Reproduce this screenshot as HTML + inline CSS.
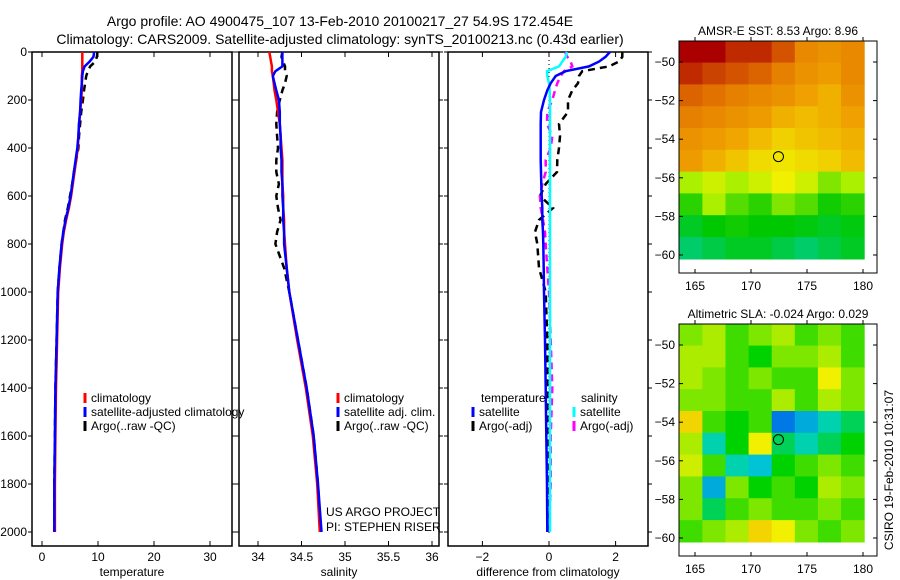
<!DOCTYPE html>
<html><head><meta charset="utf-8"><style>
html,body{margin:0;padding:0;background:#fff;width:900px;height:580px;overflow:hidden}
svg{display:block;font-family:"Liberation Sans",sans-serif}
text{font-size:12px;fill:#000}
</style></head><body>
<svg id="fig" width="900" height="580" viewBox="0 0 900 580">
<text x="340" y="26" text-anchor="middle" style="font-size:14px">Argo profile: AO 4900475_107 13-Feb-2010 20100217_27 54.9S 172.454E</text>
<text x="340" y="44" text-anchor="middle" style="font-size:14px">Climatology: CARS2009. Satellite-adjusted climatology: synTS_20100213.nc (0.43d earlier)</text>
<g id="p1"></g>
<g id="p2"></g>
<g id="p3"></g>
<g id="m1"></g>
<g id="m2"></g>
<text x="893" y="470" transform="rotate(-90 893 470)" text-anchor="middle" style="font-size:12px">CSIRO 19-Feb-2010 10:31:07</text>
</svg>
<script>
// ---- data ----
const depthTicks=[0,200,400,600,800,1000,1200,1400,1600,1800,2000];
const tempTicks=[0,10,20,30];
const salTicks=[34,34.5,35,35.5,36];
const diffTicks=[-2,0,2];
const depths=[0,20,40,60,80,100,130,160,200,250,300,350,400,450,500,550,600,650,700,750,800,900,1000,1200,1400,1600,1800,2000];
const tempClim=[7.2,7.2,7.2,7.2,7.2,7.1,7.1,7.1,7.0,6.8,6.6,6.5,6.4,6.1,5.8,5.5,5.2,4.8,4.3,3.9,3.6,3.2,2.9,2.7,2.5,2.4,2.3,2.3];
const tempSat=[9.3,9.2,8.5,7.6,7.3,7.2,7.1,7.0,6.9,6.8,6.6,6.5,6.3,6.0,5.7,5.4,5.1,4.7,4.2,3.8,3.5,3.1,2.8,2.6,2.4,2.3,2.2,2.2];
const tempArgo=[9.9,9.8,9.5,8.6,8.2,7.9,7.7,7.5,7.3,7.0,6.8,6.6,6.5,6.1,5.7,5.4,5.0,4.6,4.1,3.8,3.5,3.1,2.8,2.6,2.4,2.3,2.2,2.2];
const salClim=[34.13,34.14,34.15,34.16,34.16,34.17,34.18,34.19,34.21,34.23,34.25,34.26,34.27,34.28,34.28,34.28,34.29,34.29,34.3,34.3,34.31,34.33,34.36,34.45,34.55,34.63,34.68,34.71];
const salSat=[34.28,34.28,34.28,34.28,34.2,34.17,34.19,34.21,34.24,34.25,34.25,34.26,34.26,34.27,34.27,34.28,34.28,34.29,34.29,34.3,34.3,34.33,34.36,34.46,34.56,34.64,34.69,34.73];
const salArgo=[34.28,34.27,34.29,34.31,34.31,34.33,34.31,34.28,34.25,34.22,34.21,34.22,34.23,34.21,34.21,34.24,34.21,34.23,34.26,34.22,34.2,34.3,34.36,34.46,34.56,34.64,34.69,34.72];
const dTempSat=[1.83,1.7,1.5,1.2,0.5,0.2,0.05,-0.05,-0.15,-0.24,-0.25,-0.25,-0.25,-0.25,-0.24,-0.23,-0.22,-0.2,-0.2,-0.18,-0.17,-0.16,-0.15,-0.12,-0.1,-0.08,-0.06,-0.05];
const dTempArgo=[2.2,2.2,2.1,1.8,1.0,0.9,0.87,0.7,0.57,0.57,0.3,0.33,0.3,0.25,0.24,-0.1,-0.27,0.12,-0.3,-0.42,-0.35,-0.3,-0.1,-0.05,-0.05,-0.05,0,0];
const dSalSat=[0.54,0.5,0.4,0.3,-0.06,-0.05,0,0.02,0.03,0.03,0.03,0.03,0.03,0.03,0.03,0.03,0.03,0.03,0.03,0.03,0.03,0.03,0.03,0.03,0.03,0.03,0.03,0.03];
const dSalArgo=[0.48,0.55,0.65,0.7,0.45,0.35,0.25,0.18,0.1,-0.05,-0.06,0.1,0.05,-0.1,-0.1,-0.2,-0.27,-0.25,-0.18,-0.12,-0.1,-0.05,0,0.05,0.1,0.05,0.05,0];
const lonTicks=[165,170,175,180];
const latTicks=[-50,-52,-54,-56,-58,-60];
const sstGrid=[
[1,1,.95,.95,.9,.8,.78,.8],[.95,.92,.9,.88,.82,.78,.76,.8],[.88,.85,.82,.8,.78,.75,.72,.78],
[.82,.8,.78,.76,.72,.7,.72,.75],[.78,.76,.74,.7,.66,.68,.7,.72],[.76,.72,.68,.64,.62,.64,.66,.7],
[.5,.55,.5,.55,.6,.55,.45,.5],[.35,.5,.4,.35,.45,.4,.32,.35],[.25,.3,.32,.3,.3,.28,.25,.28],[.15,.2,.25,.25,.2,.15,.2,.25]];
const slaGrid=[
[.2,.3,.1,.2,.3,.1,.2,.1],[.3,.3,.1,0,.2,.2,.3,.1],[.3,.2,.1,.2,.1,.1,.5,.2],[.2,.2,.1,.1,.3,.1,.3,.2],
[.6,.1,0,.1,-.6,-.4,-.2,-.1],[.3,-.2,0,.5,-.1,-.2,-.1,0],[.4,.1,-.2,-.3,0,.1,.2,.1],[.2,-.4,.2,0,.1,0,.3,.2],
[.2,-.1,.1,.2,.1,.1,.2,.1],[.1,.2,.3,.6,.5,.2,.1,.2]];
const argoLon=172.45, argoLat=-54.9;

const NS='http://www.w3.org/2000/svg';
function mk(parent,tag,attrs){const e=document.createElementNS(NS,tag);for(const k in attrs)e.setAttribute(k,attrs[k]);parent.appendChild(e);return e;}
function txt(parent,x,y,s,anchor,size){const t=mk(parent,'text',{x:x,y:y,'text-anchor':anchor||'start'});if(size)t.style.fontSize=size+'px';t.textContent=s;return t;}
const Y0=52,Y1=546;
const yD=d=>52+d*0.24;

function panel(g,x0,x1,xs,ticks,xlabel,fmt,showY){
  mk(g,'rect',{x:x0,y:Y0,width:x1-x0,height:Y1-Y0,fill:'none',stroke:'#000','stroke-width':1.5});
  ticks.forEach(v=>{const x=xs(v);
    const t=mk(g,'line',{x1:x,x2:x,y1:Y0,y2:Y0+5,stroke:'#000'});
    mk(g,'line',{x1:x,x2:x,y1:Y1,y2:Y1-5,stroke:'#000'});
    txt(g,x,Y1+15,fmt(v),'middle');});
  depthTicks.forEach(d=>{const y=yD(d);
    mk(g,'line',{x1:x0,x2:x0-4,y1:y,y2:y,stroke:'#000'});mk(g,'line',{x1:x1,x2:x1+4,y1:y,y2:y,stroke:'#000'});
    if(showY)txt(g,x0-5,y+4,String(d),'end');});
  const l=txt(g,(x0+x1)/2,Y1+30,xlabel,'middle');
}
function series(g,vals,xs,color,dash,name,w){
  const d=vals.map((v,i)=>(i?'L':'M')+xs(v).toFixed(1)+','+yD(depths[i]).toFixed(1)).join('');
  const p=mk(g,'path',{d:d,fill:'none',stroke:color,'stroke-width':w||2.5});
  if(dash)p.setAttribute('stroke-dasharray',dash);
  
  
}
function legend(g,x,y,color,label){
  mk(g,'line',{x1:x,x2:x,y1:y-9,y2:y+1,stroke:color,'stroke-width':3});
  const t=txt(g,x+6,y,label);
  
  
}
// panel 1
const p1=document.getElementById('p1');const xs1=v=>42+v*5.6;
panel(p1,32,232,xs1,tempTicks,'temperature',v=>String(v),true);
series(p1,tempArgo,xs1,'#000','7,5','temp-argo-line');
series(p1,tempClim,xs1,'#f00',null,'temp-climatology-line');
series(p1,tempSat,xs1,'#00f',null,'temp-satellite-line');
legend(p1,85,402,'#f00','climatology');legend(p1,85,416,'#00f','satellite-adjusted climatology');legend(p1,85,430,'#000','Argo(..raw -QC)');
// panel 2
const p2=document.getElementById('p2');const xs2=v=>258+(v-34)*87;
panel(p2,239,439,xs2,salTicks,'salinity',v=>String(v),false);
series(p2,salArgo,xs2,'#000','7,5','sal-argo-line');
series(p2,salClim,xs2,'#f00',null,'sal-climatology-line');
series(p2,salSat,xs2,'#00f',null,'sal-satellite-line');
legend(p2,338,402,'#f00','climatology');legend(p2,338,416,'#00f','satellite adj. clim.');legend(p2,338,430,'#000','Argo(..raw -QC)');
txt(p2,326,516,'US ARGO PROJECT');txt(p2,326,531,'PI: STEPHEN RISER');
// panel 3
const p3=document.getElementById('p3');const xs3=v=>549+v*33.3;
panel(p3,448,648,xs3,diffTicks,'difference from climatology',v=>v<0?'\u2212'+(-v):String(v),false);
mk(p3,'line',{x1:xs3(0),x2:xs3(0),y1:Y0,y2:Y1-10,stroke:'#000','stroke-dasharray':'1,3'});
series(p3,dTempArgo,xs3,'#000','7,5','diff-temp-argo-line');
series(p3,dSalArgo,xs3,'#f0f','7,5','diff-sal-argo-line');
series(p3,dSalSat,xs3,'#0ff',null,'diff-sal-satellite-line');
series(p3,dTempSat,xs3,'#00f',null,'diff-temp-satellite-line');
txt(p3,481,402,'temperature');txt(p3,581,402,'salinity');
legend(p3,473,416,'#00f','satellite');legend(p3,473,430,'#000','Argo(-adj)');
legend(p3,574,416,'#0ff','satellite');legend(p3,574,430,'#f0f','Argo(-adj)');
// maps
function lerp(a,b,t){return a.map((v,i)=>Math.round(v+(b[i]-v)*t));}
function cmap(stops,v){v=Math.max(0,Math.min(1,v));for(let i=1;i<stops.length;i++){if(v<=stops[i][0]){const t=(v-stops[i-1][0])/(stops[i][0]-stops[i-1][0]);const c=lerp(stops[i-1][1],stops[i][1],t);return 'rgb('+c.join(',')+')';}}return 'rgb('+stops[stops.length-1][1].join(',')+')';}
const sstStops=[[0,[0,210,210]],[0.3,[0,200,0]],[0.5,[170,240,0]],[0.6,[240,240,0]],[0.75,[240,160,0]],[0.88,[220,100,0]],[1,[170,0,0]]];
const slaStops=[[0,[0,0,140]],[0.2,[0,120,230]],[0.38,[0,210,210]],[0.5,[0,210,0]],[0.62,[150,235,0]],[0.75,[240,240,0]],[0.88,[245,170,0]],[1,[220,80,0]]];
function map(g,top,title,grid,stops,norm){
  const bx0=679,bx1=877,by0=top,by1=top+232;
  const lx=lon=>695+(lon-165)*11.2;
  const ly=lat=>top+21+(-50-lat)*19.3;
  txt(g,(bx0+bx1)/2,top-6,title,'middle');
  const lon0=163.6,lon1=180.1,lat0=-48.9,lat1=-60.2;
  const nr=grid.length,nc=grid[0].length;
  const cw=(lx(lon1)-lx(lon0))/nc,ch=(ly(lat1)-ly(lat0))/nr;
  grid.forEach((row,r)=>row.forEach((v,c)=>{
    const cell=mk(g,'rect',{x:(lx(lon0)+c*cw).toFixed(1),y:(ly(lat0)+r*ch).toFixed(1),width:(cw+0.6).toFixed(1),height:(ch+0.6).toFixed(1),fill:cmap(stops,norm(v))});
    
    
  }));
  mk(g,'rect',{x:bx0,y:by0,width:bx1-bx0,height:by1-by0,fill:'none',stroke:'#000','stroke-width':1});
  lonTicks.forEach(v=>{const x=lx(v);mk(g,'line',{x1:x,x2:x,y1:by0,y2:by0-4,stroke:'#000'});mk(g,'line',{x1:x,x2:x,y1:by1,y2:by1-4,stroke:'#000'});txt(g,x,by1+17,String(v),'middle');});
  latTicks.forEach(v=>{const y=ly(v);mk(g,'line',{x1:bx0,x2:bx0+4,y1:y,y2:y,stroke:'#000'});mk(g,'line',{x1:bx1,x2:bx1-4,y1:y,y2:y,stroke:'#000'});txt(g,bx0-4,y+4,'\u2212'+(-v),'end');});
  const m=mk(g,'circle',{cx:lx(argoLon),cy:ly(argoLat),r:5,fill:'none',stroke:'#000'});
  
  
}
map(document.getElementById('m1'),41,'AMSR-E SST: 8.53 Argo: 8.96',sstGrid,sstStops,v=>v);
map(document.getElementById('m2'),324,'Altimetric SLA: -0.024 Argo: 0.029',slaGrid,slaStops,v=>0.5+v*0.5);
</script>
</body></html>
